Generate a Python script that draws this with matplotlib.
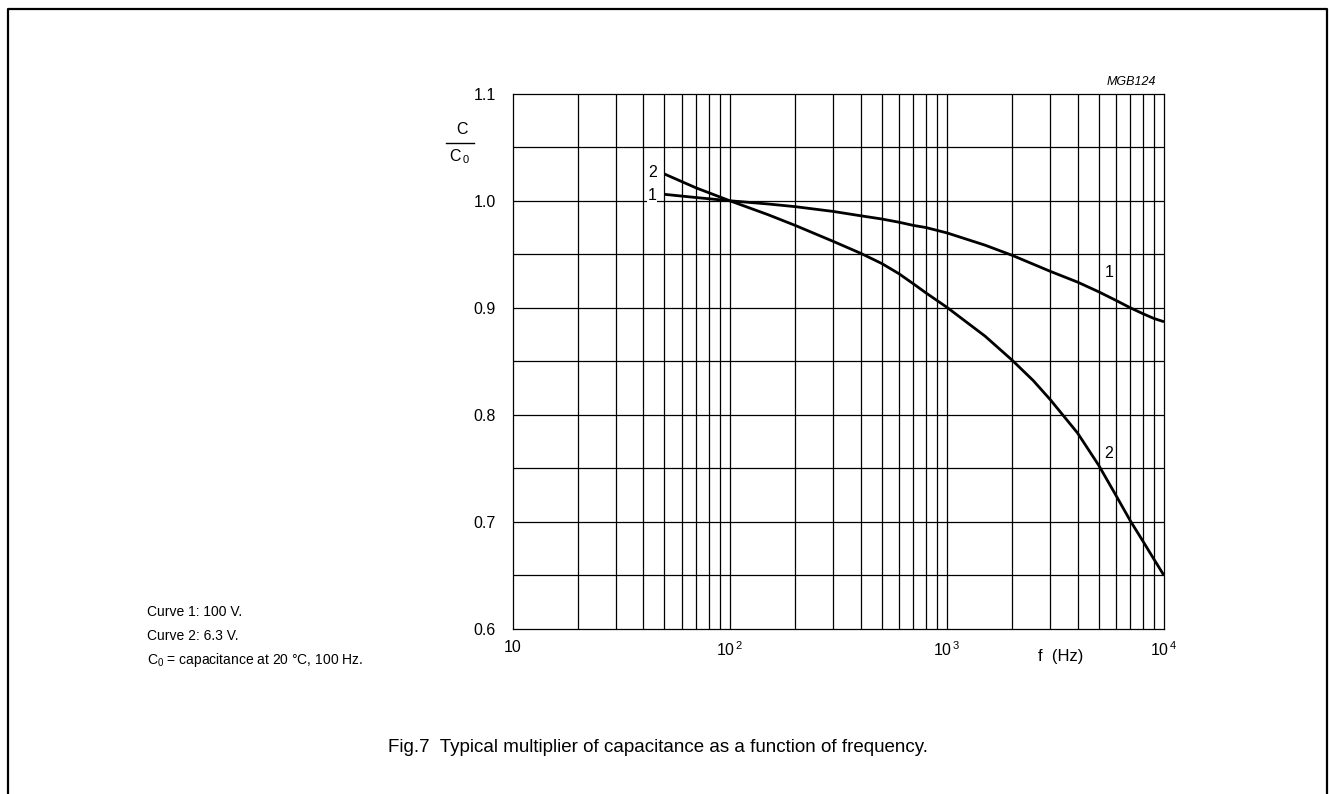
import matplotlib
matplotlib.use("Agg")
import matplotlib.pyplot as plt
from matplotlib.lines import Line2D
import numpy as np

plt.rcParams['font.family'] = ['Liberation Sans', 'DejaVu Sans']
plt.rcParams['mathtext.fontset'] = 'custom'
plt.rcParams['mathtext.rm'] = 'Liberation Sans'
plt.rcParams['mathtext.it'] = 'Liberation Sans:italic'

# Curve 1: 100 V
f1 = [50, 70, 100, 150, 200, 300, 400, 500, 600, 700, 800, 1000, 1500, 2000, 3000, 4000, 5000, 6000, 7000, 8000, 9000, 10000]
c1 = [1.006, 1.003, 1.000, 0.997, 0.9945, 0.990, 0.986, 0.983, 0.980, 0.977, 0.975, 0.970, 0.9585, 0.949, 0.934, 0.924, 0.915, 0.907, 0.900, 0.8945, 0.890, 0.887]

# Curve 2: 6.3 V
f2 = [50, 70, 100, 150, 200, 300, 400, 500, 600, 700, 800, 1000, 1500, 2000, 2500, 3000, 4000, 5000, 6000, 7000, 8000, 9000, 10000]
c2 = [1.025, 1.012, 1.000, 0.987, 0.977, 0.962, 0.951, 0.9415, 0.932, 0.9225, 0.914, 0.9005, 0.8735, 0.851, 0.832, 0.814, 0.783, 0.753, 0.725, 0.701, 0.682, 0.665, 0.650]

ytick_vals = [0.6, 0.7, 0.8, 0.9, 1.0, 1.1]
xtick_vals = [10, 100, 1000, 10000]
xtick_labels = ['10', r'$10^{\,2}$', r'$10^{\,3}$', r'$10^{\,4}$']

W, H = 1329, 794
fig = plt.figure(figsize=(W / 100, H / 100), dpi=100)
ax = fig.add_axes([512.7 / W, 1 - 629 / H, (1164 - 512.7) / W, (629 - 93.7) / H])

ax.set_xscale('log')
ax.set_xlim(10, 10000)
ax.set_ylim(0.6, 1.1)

# grid
for dec in [10, 100, 1000]:
    for m in range(2, 10):
        ax.axvline(dec * m, color='black', lw=0.9, zorder=1)
for d in [100, 1000]:
    ax.axvline(d, color='black', lw=0.9, zorder=1)
for yv in np.arange(0.65, 1.1, 0.05):
    ax.axhline(yv, color='black', lw=0.9, zorder=1)

ax.plot(f1, c1, color='black', lw=2.0, zorder=3, solid_capstyle='butt', solid_joinstyle='round')
ax.plot(f2, c2, color='black', lw=2.0, zorder=3, solid_capstyle='butt', solid_joinstyle='round')

for s in ax.spines.values():
    s.set_linewidth(0.9)

ax.set_yticks(ytick_vals)
ax.set_yticklabels([f'{v:.1f}' for v in ytick_vals], fontsize=11.5)
ax.set_xticks(xtick_vals)
ax.set_xticklabels(xtick_labels, fontsize=11.5)
ax.xaxis.set_minor_locator(matplotlib.ticker.NullLocator())
ax.tick_params(axis='both', length=0)
ax.tick_params(axis='y', pad=12)
ax.tick_params(axis='x', pad=8)

# curve labels
box = dict(facecolor='white', edgecolor='none', pad=0.5)
ax.text(46, 1.026, '2', fontsize=11.5, ha='right', va='center', bbox=box, zorder=4)
ax.text(46, 1.005, '1', fontsize=11.5, ha='right', va='center', bbox=box, zorder=4)
ax.text(5850, 0.933, '1', fontsize=11.5, ha='right', va='center', bbox=box, zorder=4)
ax.text(5850, 0.764, '2', fontsize=11.5, ha='right', va='center', bbox=box, zorder=4)

# axis labels
fig.text(462 / W, 1 - 129 / H, 'C', fontsize=11.5, ha='center', va='center')
fig.add_artist(Line2D([446 / W, 474 / W], [1 - 143 / H, 1 - 143 / H], color='black', lw=1.0))
fig.text(460 / W, 1 - 157 / H, r'C$_{\,0}$', fontsize=11.5, ha='center', va='center')
fig.text(1061 / W, 1 - 657 / H, 'f  (Hz)', fontsize=12, ha='center', va='center')
fig.text(1156 / W, 1 - 82 / H, 'MGB124', fontsize=9, style='italic', ha='right', va='center')

# notes
fig.text(147 / W, 1 - 612 / H, 'Curve 1: 100 V.', fontsize=10, ha='left', va='center')
fig.text(147 / W, 1 - 636 / H, 'Curve 2: 6.3 V.', fontsize=10, ha='left', va='center')
fig.text(147 / W, 1 - 660 / H, r'C$_0$ = capacitance at 20 °C, 100 Hz.', fontsize=10, ha='left', va='center')

fig.text(658 / W, 1 - 748 / H, 'Fig.7  Typical multiplier of capacitance as a function of frequency.',
         fontsize=13.5, ha='center', va='center')

# frame
fig.add_artist(Line2D([8 / W, 8 / W, 1327 / W, 1327 / W], [0, 1 - 9 / H, 1 - 9 / H, 0],
                      color='black', lw=1.6))

fig.savefig('out.png', dpi=100)
